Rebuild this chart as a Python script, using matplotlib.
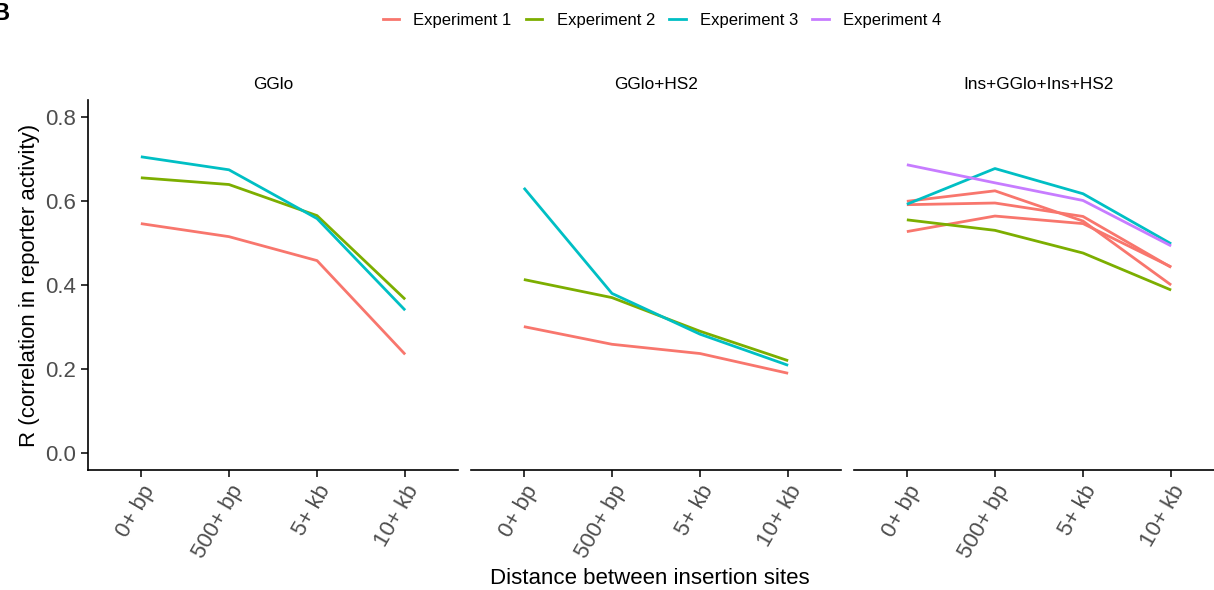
import numpy as np
import matplotlib
matplotlib.use('Agg')
import matplotlib.pyplot as plt
from matplotlib.lines import Line2D

plt.rcParams['font.family'] = ['Liberation Sans', 'DejaVu Sans']

# data
distances = ['0+ bp', '500+ bp', '5+ kb', '10+ kb']
panels = ['GGlo', 'GGlo+HS2', 'Ins+GGlo+Ins+HS2']
experiments = ['Experiment 1', 'Experiment 2', 'Experiment 3', 'Experiment 4']
colors = ['#F8766D', '#7CAE00', '#00BFC4', '#C77CFF']

gglo_exp1 = [0.546, 0.515, 0.458, 0.235]
gglo_exp2 = [0.655, 0.639, 0.565, 0.366]
gglo_exp3 = [0.705, 0.674, 0.558, 0.340]

hs2_exp1 = [0.301, 0.259, 0.237, 0.190]
hs2_exp2 = [0.413, 0.370, 0.290, 0.220]
hs2_exp3 = [0.631, 0.380, 0.283, 0.209]

ins_exp1a = [0.599, 0.624, 0.552, 0.400]
ins_exp1b = [0.591, 0.595, 0.563, 0.442]
ins_exp1c = [0.527, 0.564, 0.546, 0.443]
ins_exp2 = [0.555, 0.530, 0.476, 0.388]
ins_exp3 = [0.592, 0.677, 0.617, 0.498]
ins_exp4 = [0.686, 0.643, 0.601, 0.493]

# (panel index, experiment index, values)
series = [
    (0, 0, gglo_exp1), (0, 1, gglo_exp2), (0, 2, gglo_exp3),
    (1, 0, hs2_exp1), (1, 1, hs2_exp2), (1, 2, hs2_exp3),
    (2, 0, ins_exp1a), (2, 0, ins_exp1b), (2, 0, ins_exp1c),
    (2, 1, ins_exp2), (2, 2, ins_exp3), (2, 3, ins_exp4),
]

W, H = 1214, 590
fig = plt.figure(figsize=(W / 100, H / 100), dpi=100)

# panel boxes in pixels
lefts = [88, 471, 854]
width = 370
top, bottom = 100, 470

axes = []
for i in range(3):
    ax = fig.add_axes([lefts[i] / W, 1 - bottom / H, width / W, (bottom - top) / H])
    axes.append(ax)

x = np.arange(1, len(distances) + 1)
for p, e, vals in series:
    axes[p].plot(x, vals, color=colors[e], lw=2.0, solid_capstyle='butt')

for i, ax in enumerate(axes):
    ax.set_xlim(0.4, 4.6)
    ax.set_ylim(-0.04, 0.84)
    for s in ['top', 'right']:
        ax.spines[s].set_visible(False)
    ax.spines['bottom'].set_linewidth(1.2)
    ax.spines['left'].set_linewidth(1.2)
    ax.set_xticks(x)
    ax.set_xticklabels(distances, rotation=60, ha='right', va='top',
                       rotation_mode='anchor', fontsize=16, color='#4D4D4D')
    ax.tick_params(axis='both', length=5, width=1.1, color='black')
    ax.set_title(panels[i], fontsize=12.4, pad=8)
    if i == 0:
        ax.set_yticks([0.0, 0.2, 0.4, 0.6, 0.8])
        ax.set_yticklabels(['0.0', '0.2', '0.4', '0.6', '0.8'],
                           fontsize=16, color='#4D4D4D')
        ax.set_ylabel('R (correlation in reporter activity)', fontsize=16)
    else:
        ax.spines['left'].set_visible(False)
        ax.set_yticks([])

fig.text(650 / W, 1 - 578 / H, 'Distance between insertion sites',
         ha='center', va='center', fontsize=16)
fig.text(-0.006, 1 - 14 / H, 'B', fontsize=17, fontweight='bold',
         ha='left', va='center')

handles = [Line2D([0], [0], color=c, lw=2.0) for c in colors]
fig.legend(handles, experiments, loc='center', bbox_to_anchor=(662 / W, 1 - 20 / H),
           ncol=4, frameon=False, fontsize=12, handlelength=1.0,
           columnspacing=0.85, handletextpad=0.85)

fig.savefig('out.png', dpi=100)
